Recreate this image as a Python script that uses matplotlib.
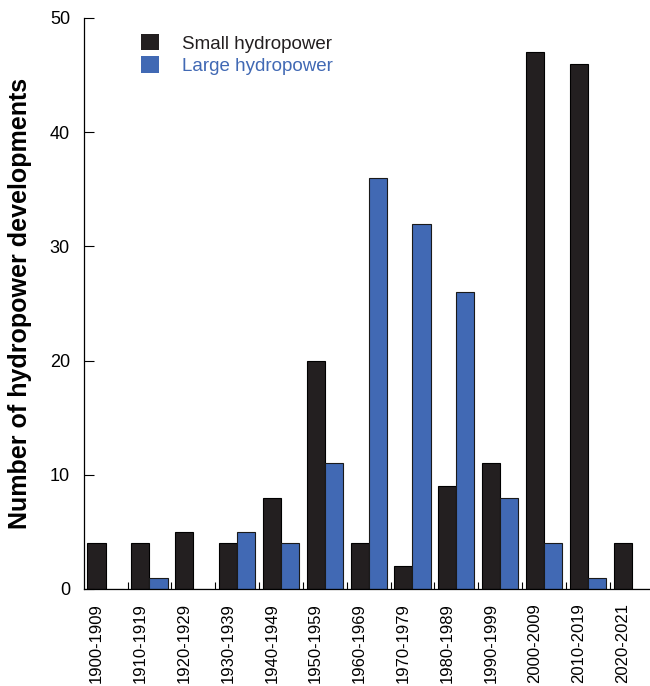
import numpy as np
import matplotlib.pyplot as plt
from matplotlib.patches import Patch

plt.rcParams['font.family'] = ['Liberation Sans', 'DejaVu Sans']

# Developments per decade
decades = ['1900-1909', '1910-1919', '1920-1929', '1930-1939', '1940-1949',
           '1950-1959', '1960-1969', '1970-1979', '1980-1989', '1990-1999',
           '2000-2009', '2010-2019', '2020-2021']
small = [4, 4, 5, 4, 8, 20, 4, 2, 9, 11, 47, 46, 4]
large = [0, 1, 0, 5, 4, 11, 36, 32, 26, 8, 4, 1, 0]

c_small = '#231f20'
c_large = '#4169b4'

fig = plt.figure(figsize=(6.5, 6.86), dpi=100)
ax = fig.add_axes([0.129, 0.1414, 0.871, 0.8324])

x = np.arange(len(decades))
w = 0.414
ax.bar(x, small, width=w, color=c_small, edgecolor='black', linewidth=0.8)
ax.bar(x + w, large, width=w, color=c_large, edgecolor='#1a1a1a', linewidth=0.8)

ax.set_xlim(-0.29, 12.625)
ax.set_ylim(0, 50)
ax.set_yticks(range(0, 51, 10))
ax.set_xticks(x)
ax.set_xticklabels(decades, rotation=90, fontsize=12)
# small marks between decade groups
ax.set_xticks(x[:-1] + 0.707, minor=True)
ax.tick_params(axis='x', which='major', length=0, pad=10)
ax.tick_params(axis='x', which='minor', direction='in', length=5, width=0.8)
ax.tick_params(axis='y', direction='in', length=7, width=0.8, labelsize=13, pad=10)
for s in ['top', 'right']:
    ax.spines[s].set_visible(False)
for s in ['left', 'bottom']:
    ax.spines[s].set_linewidth(0.9)

ax.set_ylabel('Number of hydropower developments', fontsize=18, fontweight='bold', labelpad=13)

handles = [Patch(facecolor=c_small), Patch(facecolor=c_large)]
leg = ax.legend(handles, ['Small hydropower', 'Large hydropower'], frameon=False,
                loc='upper left', bbox_to_anchor=(0.1007, 0.972), fontsize=13.5,
                borderpad=0, borderaxespad=0,
                handlelength=0.96, handleheight=0.96, handletextpad=1.25, labelspacing=0.2)
leg.get_texts()[1].set_color(c_large)
leg.get_texts()[0].set_color(c_small)

plt.savefig('out.png', dpi=100)
